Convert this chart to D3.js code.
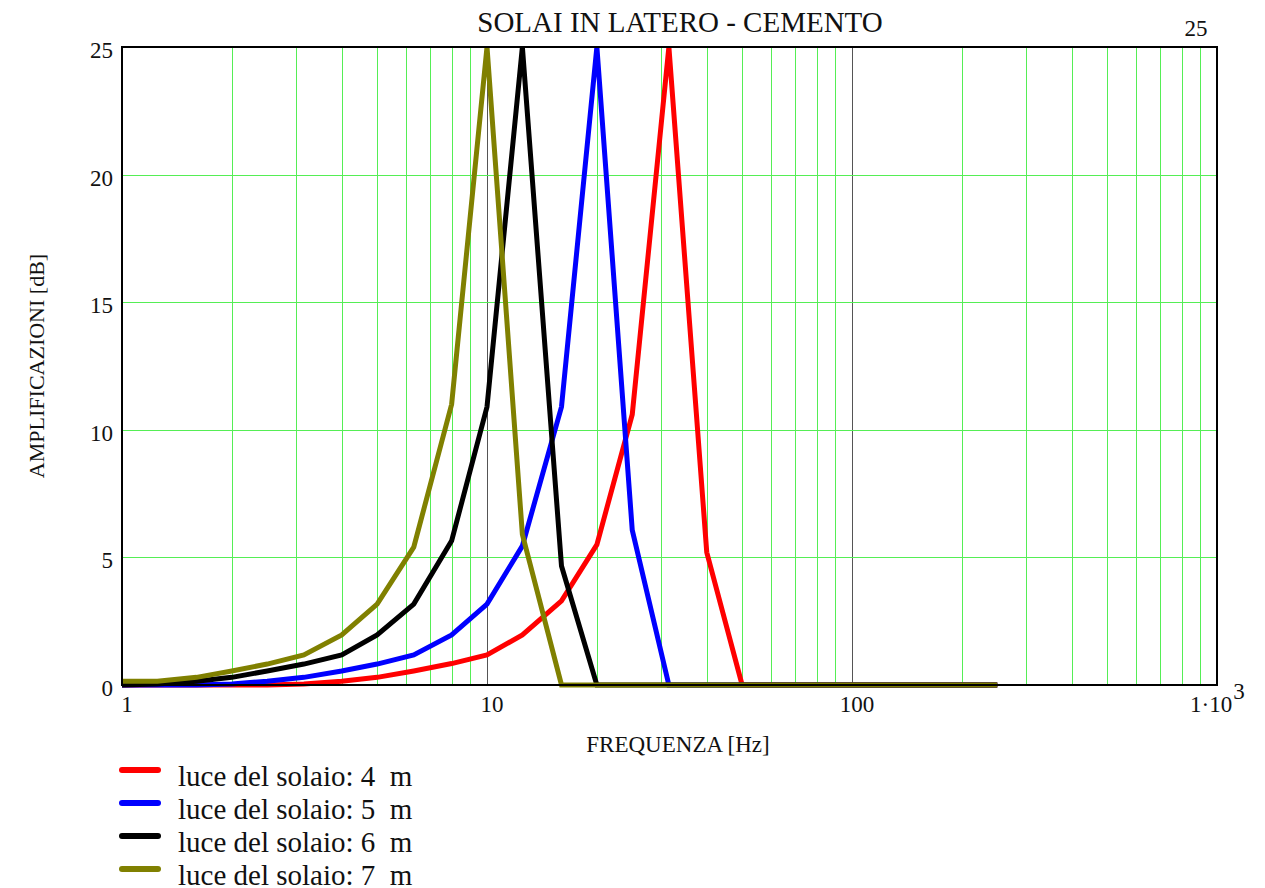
<!DOCTYPE html>
<html>
<head>
<meta charset="utf-8">
<title>SOLAI IN LATERO - CEMENTO</title>
<script src="https://cdnjs.cloudflare.com/ajax/libs/d3/7.8.5/d3.min.js"></script>
<style>
  body { margin: 0; background: #fff; }
  svg text { font-family: "Liberation Serif", "Times New Roman", serif; fill: #111; }
</style>
</head>
<body>
<div id="chart"></div>
<script>
// frequencies (1/3 octave bands, Hz)
const freqs = [1, 1.25, 1.6, 2, 2.5, 3.15, 4, 5, 6.3, 8, 10, 12.5, 16, 20, 25, 31.5, 40, 50, 63, 80, 100, 125, 160, 200, 250];

// amplification [dB] per floor span
const luce4 = [0, 0, 0, 0, 0, 0.04, 0.15, 0.3, 0.55, 0.84, 1.18, 1.96, 3.3, 5.5, 10.6, 25, 5.2, 0, 0, 0, 0, 0, 0, 0, 0];
const luce5 = [0, 0, 0, 0.04, 0.15, 0.3, 0.55, 0.82, 1.18, 1.96, 3.17, 5.45, 10.9, 25, 6.07, 0, 0, 0, 0, 0, 0, 0, 0, 0, 0];
const luce6 = [0, 0.04, 0.15, 0.3, 0.55, 0.82, 1.18, 1.96, 3.17, 5.65, 10.9, 25, 4.66, 0, 0, 0, 0, 0, 0, 0, 0, 0, 0, 0, 0];
const luce7 = [0.15, 0.15, 0.3, 0.55, 0.82, 1.18, 1.96, 3.17, 5.4, 11, 25, 5.9, 0, 0, 0, 0, 0, 0, 0, 0, 0, 0, 0, 0, 0];

const seriesNames = ["luce del solaio: 4  m", "luce del solaio: 5  m", "luce del solaio: 6  m", "luce del solaio: 7  m"];
const seriesColors = ["#ff0000", "#0000ff", "#000000", "#808000"];
const seriesValues = [luce4, luce5, luce6, luce7];

const yTicks = [0, 5, 10, 15, 20, 25];
const xDecades = [1, 10, 100, 1000];

const width = 1265, height = 888;
const margin = {top: 47, right: 48, bottom: 203, left: 122};

const svg = d3.select('#chart').append('svg')
  .attr('width', width)
  .attr('height', height);

const x = d3.scaleLog()
  .domain([1, 1000])
  .range([margin.left, width - margin.right]);

const y = d3.scaleLinear()
  .domain([0, 25])
  .range([height - margin.bottom, margin.top]);

// minor grid (2..9 of each decade)
const minor = [];
[1, 10, 100].forEach(d => { for (let k = 2; k <= 9; k++) minor.push(d * k); });

svg.append('g')
  .selectAll('line')
  .data(minor)
  .join('line')
  .attr('x1', d => Math.round(x(d)) + 0.5)
  .attr('x2', d => Math.round(x(d)) + 0.5)
  .attr('y1', y(25))
  .attr('y2', y(0))
  .attr('stroke', '#55ee55')
  .attr('stroke-width', 1);

svg.append('g')
  .selectAll('line')
  .data([10, 100])
  .join('line')
  .attr('x1', d => Math.round(x(d)) + 0.5)
  .attr('x2', d => Math.round(x(d)) + 0.5)
  .attr('y1', y(25))
  .attr('y2', y(0))
  .attr('stroke', '#555')
  .attr('stroke-width', 1);

svg.append('g')
  .selectAll('line')
  .data(yTicks.slice(1, -1))
  .join('line')
  .attr('x1', x(1))
  .attr('x2', x(1000))
  .attr('y1', d => Math.round(y(d)) + 0.5)
  .attr('y2', d => Math.round(y(d)) + 0.5)
  .attr('stroke', '#55ee55')
  .attr('stroke-width', 1);

// series
const line = d3.line()
  .x((d, i) => x(freqs[i]))
  .y(d => y(d));

svg.append('g')
  .selectAll('path')
  .data(seriesValues)
  .join('path')
  .attr('d', d => line(d))
  .attr('fill', 'none')
  .attr('stroke', (d, i) => seriesColors[i])
  .attr('stroke-width', 5)
  .attr('stroke-linejoin', 'miter');

// frame
svg.append('rect')
  .attr('x', x(1))
  .attr('y', y(25))
  .attr('width', x(1000) - x(1))
  .attr('height', y(0) - y(25))
  .attr('fill', 'none')
  .attr('stroke', '#000')
  .attr('stroke-width', 2);

// y tick labels
svg.append('g')
  .selectAll('text')
  .data(yTicks)
  .join('text')
  .attr('x', x(1) - 9)
  .attr('y', d => y(d) + 11)
  .attr('text-anchor', 'end')
  .attr('font-size', 23)
  .text(d => d);

// top-right limit label
svg.append('text')
  .attr('x', 1196)
  .attr('y', 36)
  .attr('text-anchor', 'middle')
  .attr('font-size', 23)
  .text(yTicks[yTicks.length - 1]);

// x tick labels
const xl = svg.append('g').attr('font-size', 23);
xDecades.forEach(d => {
  if (d === 1000) {
    const t = xl.append('text').attr('x', x(d) - 27).attr('y', 712).attr('text-anchor', 'start');
    t.append('tspan').text('1\u00B710');
    t.append('tspan').attr('dy', -13).attr('dx', 1).text('3');
  } else {
    xl.append('text').attr('x', x(d) + 5).attr('y', 712).attr('text-anchor', 'middle').text(d);
  }
});

// titles
svg.append('text')
  .attr('x', 680)
  .attr('y', 32)
  .attr('text-anchor', 'middle')
  .attr('font-size', 29)
  .text('SOLAI IN LATERO - CEMENTO');

svg.append('text')
  .attr('x', 678)
  .attr('y', 752)
  .attr('text-anchor', 'middle')
  .attr('font-size', 23)
  .text('FREQUENZA [Hz]');

svg.append('text')
  .attr('transform', 'translate(44,366) rotate(-90)')
  .attr('text-anchor', 'middle')
  .attr('font-size', 22)
  .text('AMPLIFICAZIONI [dB]');

// legend
const legend = svg.append('g')
  .selectAll('g')
  .data(seriesNames)
  .join('g')
  .attr('transform', (d, i) => `translate(0,${770 + i * 33})`);

legend.append('line')
  .attr('x1', 122).attr('x2', 158)
  .attr('y1', 0).attr('y2', 0)
  .attr('stroke', (d, i) => seriesColors[i])
  .attr('stroke-width', 6)
  .attr('stroke-linecap', 'round');

legend.append('text')
  .attr('x', 178)
  .attr('y', 16)
  .attr('font-size', 29)
  .style('white-space', 'pre')
  .text(d => d);
</script>
</body>
</html>
